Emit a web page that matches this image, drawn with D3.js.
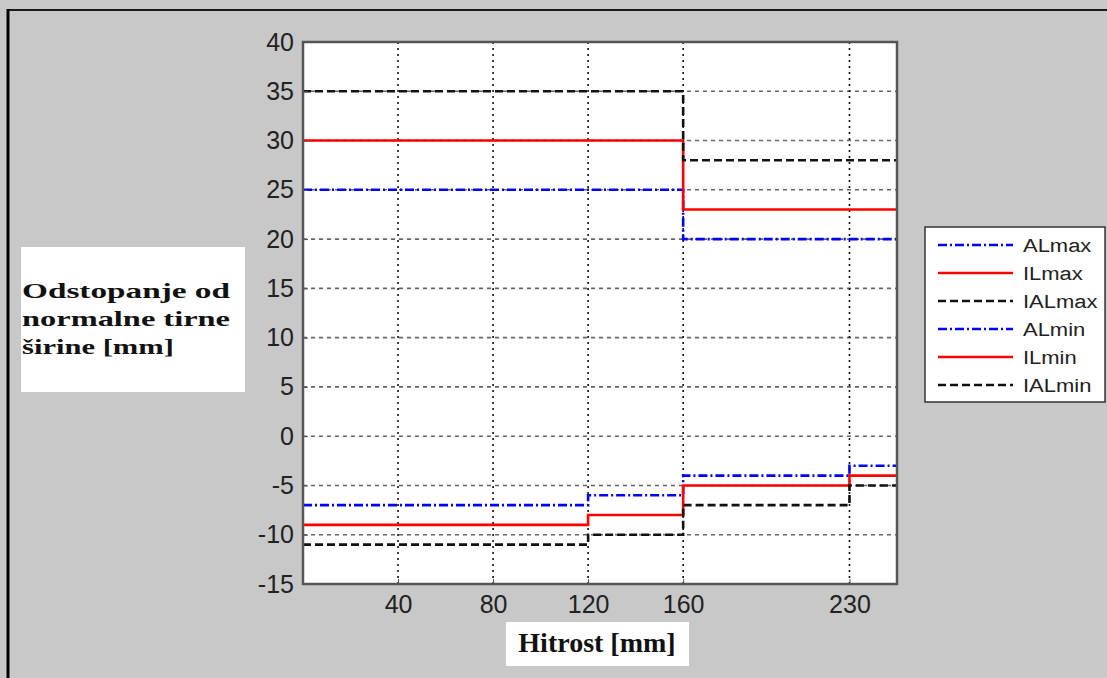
<!DOCTYPE html>
<html>
<head>
<meta charset="utf-8">
<script src="https://cdn.jsdelivr.net/npm/d3@7"></script>
<style>
  body { margin: 0; background: #c8c8c8; }
  svg { display: block; }
</style>
</head>
<body>
<svg id="chart" width="1107" height="678"></svg>
<script>
// step data
const xMax = [0, 160, 250];
const alMax = [25, 20, 20];
const ilMax = [30, 23, 23];
const ialMax = [35, 28, 28];

const xMin = [0, 120, 160, 230, 250];
const alMin = [-7, -6, -4, -3, -3];
const ilMin = [-9, -8, -5, -4, -4];
const ialMin = [-11, -10, -7, -5, -5];

const xTicks = [40, 80, 120, 160, 230];
const yTicks = d3.range(-15, 41, 5);

const series = [
  { name: 'ALmax', xs: xMax, ys: alMax, color: '#0000ff', dash: '9,3,2,3' },
  { name: 'ILmax', xs: xMax, ys: ilMax, color: '#ff0000', dash: null },
  { name: 'IALmax', xs: xMax, ys: ialMax, color: '#111111', dash: '8,4' },
  { name: 'ALmin', xs: xMin, ys: alMin, color: '#0000ff', dash: '9,3,2,3' },
  { name: 'ILmin', xs: xMin, ys: ilMin, color: '#ff0000', dash: null },
  { name: 'IALmin', xs: xMin, ys: ialMin, color: '#111111', dash: '8,4' }
];

const svg = d3.select('#chart');
const W = 1107, H = 678;
const plot = { left: 303, top: 42, right: 897, bottom: 584 };

svg.append('rect').attr('width', W).attr('height', H).attr('fill', '#c8c8c8');
// outer frame lines
svg.append('line').attr('x1', 7).attr('x2', W).attr('y1', 10).attr('y2', 10)
  .attr('stroke', '#1a1a1a').attr('stroke-width', 2);
svg.append('line').attr('x1', 8).attr('x2', 8).attr('y1', 9).attr('y2', H)
  .attr('stroke', '#000').attr('stroke-width', 3);

const x = d3.scaleLinear().domain([0, 250]).range([plot.left, plot.right]);
const y = d3.scaleLinear().domain([-15, 40]).range([plot.bottom, plot.top]);

svg.append('rect')
  .attr('x', plot.left).attr('y', plot.top)
  .attr('width', plot.right - plot.left).attr('height', plot.bottom - plot.top)
  .attr('fill', '#fff');

// grid
svg.append('g')
  .selectAll('line')
  .data(yTicks.filter(d => d > -15 && d < 40))
  .join('line')
  .attr('x1', plot.left).attr('x2', plot.right)
  .attr('y1', d => y(d)).attr('y2', d => y(d))
  .attr('stroke', '#666').attr('stroke-width', 1.6)
  .attr('stroke-dasharray', '4,4');

svg.append('g')
  .selectAll('line')
  .data(xTicks)
  .join('line')
  .attr('x1', d => x(d)).attr('x2', d => x(d))
  .attr('y1', plot.top).attr('y2', plot.bottom)
  .attr('stroke', '#111').attr('stroke-width', 1.6)
  .attr('stroke-dasharray', '2,4');

// series
const line = d3.line()
  .x(d => x(d[0]))
  .y(d => y(d[1]))
  .curve(d3.curveStepAfter);

svg.append('g')
  .selectAll('path')
  .data(series)
  .join('path')
  .attr('d', s => line(s.xs.map((v, i) => [v, s.ys[i]])))
  .attr('fill', 'none')
  .attr('stroke', s => s.color)
  .attr('stroke-width', 2.6)
  .attr('stroke-dasharray', s => s.dash);

// axes frame
svg.append('rect')
  .attr('x', plot.left).attr('y', plot.top)
  .attr('width', plot.right - plot.left).attr('height', plot.bottom - plot.top)
  .attr('fill', 'none').attr('stroke', '#555').attr('stroke-width', 2.5);

// axes with ticks inside
const xAxis = svg.append('g')
  .attr('transform', `translate(0,${plot.bottom})`)
  .call(d3.axisBottom(x).tickValues(xTicks).tickSize(-5).tickPadding(11).tickFormat(d => String(d)));
const yAxis = svg.append('g')
  .attr('transform', `translate(${plot.left},0)`)
  .call(d3.axisLeft(y).tickValues(yTicks).tickSize(-5).tickPadding(9).tickFormat(d => String(d)));
[xAxis, yAxis].forEach(a => {
  a.attr('font-size', null).attr('font-family', null);
  a.select('.domain').remove();
  a.selectAll('.tick line').attr('stroke', '#555');
  a.selectAll('.tick text')
    .style('font-family', 'Liberation Sans, Arial, sans-serif')
    .style('font-size', '25px')
    .attr('fill', '#222');
});

// legend
const lg = svg.append('g');
lg.append('rect')
  .attr('x', 925).attr('y', 227).attr('width', 180).attr('height', 175)
  .attr('fill', '#fff').attr('stroke', '#333').attr('stroke-width', 1.5);
const items = lg.selectAll('g.item')
  .data(series)
  .join('g')
  .attr('class', 'item')
  .attr('transform', (d, i) => `translate(0,${245 + i * 28})`);
items.append('line')
  .attr('x1', 938).attr('x2', 1013)
  .attr('stroke', d => d.color).attr('stroke-width', 2.6)
  .attr('stroke-dasharray', d => d.dash);
items.append('text')
  .attr('x', 1023).attr('y', 7)
  .text(d => d.name)
  .style('font-family', 'Liberation Sans, Arial, sans-serif')
  .style('font-size', '18px')
  .attr('fill', '#222')
  .each(function() {
    const w = this.getComputedTextLength();
    d3.select(this).attr('textLength', w * 1.22).attr('lengthAdjust', 'spacingAndGlyphs');
  });

// y label box
svg.append('rect').attr('x', 21).attr('y', 247).attr('width', 224).attr('height', 145).attr('fill', '#fff');
const yl = svg.append('text')
  .style('font-family', 'Liberation Serif, Times New Roman, serif')
  .style('font-weight', 'bold')
  .style('font-size', '22px')
  .attr('fill', '#111');
const yLines = ['Odstopanje od', 'normalne tirne', 'širine [mm]'];
const yLens = [208, 208, 152];
yLines.forEach((t, i) => {
  yl.append('tspan').attr('x', 22).attr('y', 298 + i * 28)
    .attr('textLength', yLens[i]).attr('lengthAdjust', 'spacingAndGlyphs')
    .text(t);
});

// x label box
svg.append('rect').attr('x', 506).attr('y', 622).attr('width', 183).attr('height', 44).attr('fill', '#fff');
svg.append('text')
  .attr('x', 597).attr('y', 652)
  .attr('text-anchor', 'middle')
  .style('font-family', 'Liberation Serif, Times New Roman, serif')
  .style('font-weight', 'bold')
  .style('font-size', '28px')
  .attr('fill', '#111')
  .text('Hitrost [mm]');
</script>
</body>
</html>
